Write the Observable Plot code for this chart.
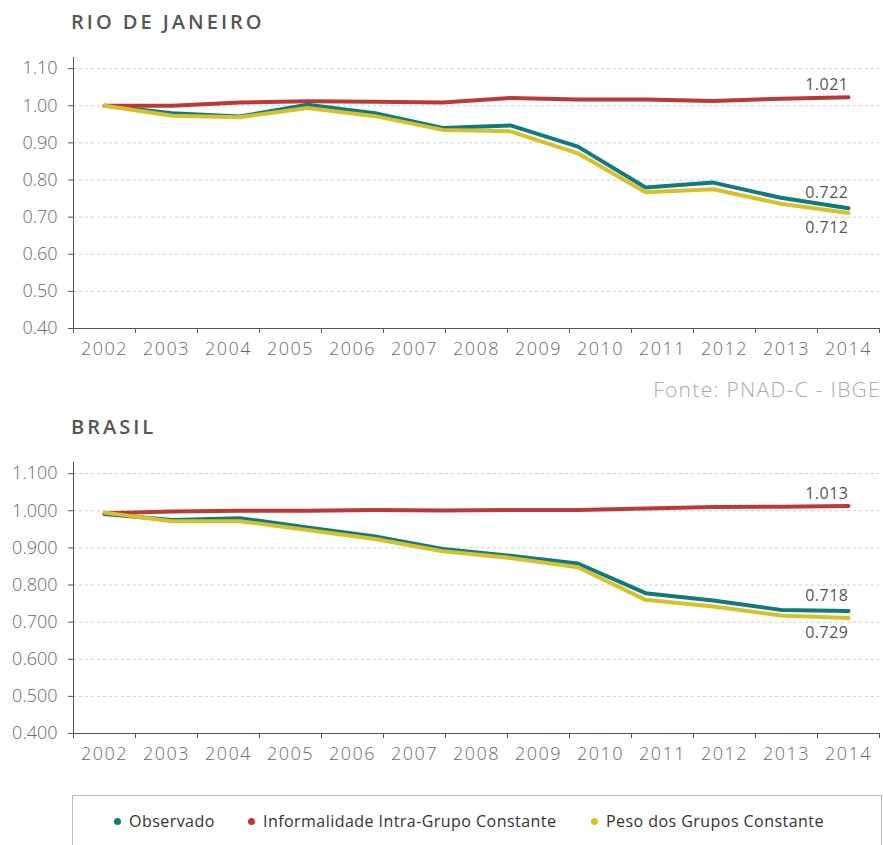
<!DOCTYPE html>
<html>
<head>
<meta charset="utf-8">
<script src="https://cdn.jsdelivr.net/npm/d3@7"></script>
<script src="https://cdn.jsdelivr.net/npm/@observablehq/plot@0.6"></script>
<style>
  html, body { margin: 0; padding: 0; background: #fff; }
  body { width: 883px; height: 845px; position: relative; overflow: hidden; font-family: "Open Sans", Lato, sans-serif; }
  .title { position: absolute; left: 71px; font-size: 20px; font-weight: 600; letter-spacing: 3px; color: #555; line-height: 1; }
  .panel { position: absolute; left: 0; }
  .fonte { position: absolute; right: 2px; top: 377px; font-size: 21px; font-weight: 300; color: #aaa; letter-spacing: 1.3px; line-height: 1.2; }
  .legend { position: absolute; left: 72px; top: 795px; width: 808px; height: 70px; border: 1px solid #bbb; }
  .item { position: absolute; top: 14px; font-size: 16px; font-weight: 400; color: #333; white-space: nowrap; letter-spacing: 0.45px; }
  .dot { display: inline-block; width: 7px; height: 7px; border-radius: 50%; margin-right: 8px; vertical-align: 2px; }
  svg text { font-family: "Open Sans", Lato, sans-serif; }
</style>
</head>
<body>
<div class="title" style="top:12px">RIO DE JANEIRO</div>
<div id="rj" class="panel" style="top:50px"></div>
<div class="fonte">Fonte: PNAD-C - IBGE</div>
<div class="title" style="top:417px">BRASIL</div>
<div id="br" class="panel" style="top:455px"></div>
<div class="legend" id="legend"></div>
<script>
// ---- data ----
const years = ["2002","2003","2004","2005","2006","2007","2008","2009","2010","2011","2012","2013","2014"];
// observation index (12 observations drawn across the 13 year bands)
const obs = [0,1,2,3,4,5,6,7,8,9,10,11];

const seriesNames = ["Observado", "Informalidade Intra-Grupo Constante", "Peso dos Grupos Constante"];
const seriesColors = ["#117a80", "#ba3a36", "#d6c12b"];

const rjObservado      = [1.000, 0.980, 0.971, 1.003, 0.980, 0.940, 0.947, 0.890, 0.780, 0.793, 0.752, 0.724];
const rjInformalidade  = [1.000, 1.000, 1.009, 1.012, 1.011, 1.009, 1.021, 1.017, 1.017, 1.013, 1.019, 1.023];
const rjPeso           = [1.000, 0.973, 0.969, 0.994, 0.972, 0.935, 0.931, 0.872, 0.767, 0.775, 0.736, 0.711];

const brObservado      = [0.991, 0.975, 0.980, 0.955, 0.931, 0.897, 0.879, 0.858, 0.778, 0.758, 0.733, 0.730];
const brInformalidade  = [0.993, 0.998, 1.000, 1.000, 1.002, 1.001, 1.002, 1.002, 1.006, 1.010, 1.011, 1.013];
const brPeso           = [0.995, 0.972, 0.972, 0.948, 0.924, 0.891, 0.873, 0.848, 0.760, 0.742, 0.718, 0.711];

const rjEndLabels = ["0.722", "1.021", "0.712"];
const brEndLabels = ["0.718", "1.013", "0.729"];
const endLabelDy  = [-15, -12, 15];

const yTicks = [0.4, 0.5, 0.6, 0.7, 0.8, 0.9, 1.0, 1.1];

// ---- build ----
const nBands = years.length;
const nObs = obs.length;
const step = (nObs - 1) / (nBands - 1); // index units per year band
const bandCenters = years.map((_, j) => j * step);
const bandEdges = d3.range(nBands + 1).map(j => (j - 0.5) * step);
const yearOf = new Map(bandCenters.map((c, j) => [c, years[j]]));

function panel(values, endLabels, fmt) {
  const rows = [];
  values.forEach((arr, s) => arr.forEach((v, i) => rows.push({s, x: obs[i], y: v})));
  const last = values.map((arr, s) => ({s, x: obs[nObs - 1], y: arr[nObs - 1], label: endLabels[s]}));
  const order = [0, 1, 2];
  const svg = Plot.plot({
    width: 883,
    height: 320,
    marginTop: 7,
    marginBottom: 42,
    marginLeft: 73,
    marginRight: 4,
    x: {domain: [bandEdges[0], bandEdges[nBands]], axis: null},
    y: {domain: [0.4, 1.13], axis: null},
    style: {fontSize: "16px", color: "#666", background: "#fff"},
    marks: [
      Plot.gridY(yTicks.filter(t => t > 0.4), {stroke: "#ccc", strokeOpacity: 1, strokeDasharray: "3,3"}),
      Plot.axisY(yTicks, {label: null, tickSize: 5, tickPadding: 11, tickFormat: fmt, stroke: "#555", fill: "#6a6a6a", fontSize: 18, fontWeight: 300}),
      Plot.axisX(bandEdges, {label: null, tickSize: 5, tickFormat: () => "", stroke: "#555"}),
      Plot.axisX(bandCenters, {label: null, tickSize: 0, tickPadding: 14, tickFormat: d => yearOf.get(d), fill: "#6a6a6a", fontSize: 18, fontWeight: 300, className: "yearlbl"}),
      Plot.frame({anchor: "left", stroke: "#555"}),
      Plot.frame({anchor: "bottom", stroke: "#555"}),
      ...order.map(s => Plot.line(rows.filter(r => r.s === s), {x: "x", y: "y", stroke: seriesColors[s], strokeWidth: 4})),
      ...last.map(d => Plot.text([d], {x: "x", y: "y", text: "label", textAnchor: "end", dx: 0, dy: endLabelDy[d.s], fill: "#555", fontSize: 16, fontWeight: 400, className: "endlbl"}))
    ]
  });
  svg.querySelectorAll(".yearlbl text").forEach(t => t.setAttribute("letter-spacing", "1.5px"));
  svg.querySelectorAll(".endlbl text").forEach(t => t.setAttribute("letter-spacing", "0.5px"));
  return svg;
}

document.getElementById("rj").append(panel([rjObservado, rjInformalidade, rjPeso], rjEndLabels, d3.format(".2f")));
document.getElementById("br").append(panel([brObservado, brInformalidade, brPeso], brEndLabels, d3.format(".3f")));

// legend
const legendX = [41, 175, 518];
const legend = document.getElementById("legend");
seriesNames.forEach((n, i) => {
  const el = document.createElement("div");
  el.className = "item";
  el.style.left = legendX[i] + "px";
  el.innerHTML = `<span class="dot" style="background:${seriesColors[i]}"></span>${n}`;
  legend.append(el);
});
</script>
</body>
</html>
